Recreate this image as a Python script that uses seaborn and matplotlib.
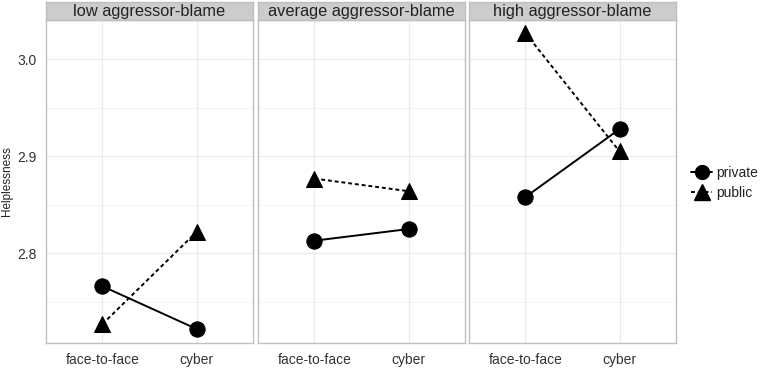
import matplotlib
matplotlib.use("Agg")
import matplotlib.pyplot as plt
from matplotlib.lines import Line2D
import seaborn as sns
import pandas as pd

# ---- data ----
panels = ["low aggressor-blame", "average aggressor-blame", "high aggressor-blame"]
conditions = ["face-to-face", "cyber"]
groups = ["private", "public"]
private_vals = {"low aggressor-blame": [2.766, 2.722],
                "average aggressor-blame": [2.813, 2.825],
                "high aggressor-blame": [2.858, 2.928]}
public_vals = {"low aggressor-blame": [2.727, 2.822],
               "average aggressor-blame": [2.877, 2.864],
               "high aggressor-blame": [3.027, 2.905]}
y_ticks = [2.8, 2.9, 3.0]
y_label = "Helplessness"

rows = []
for p in panels:
    for i, c in enumerate(conditions):
        rows.append({"panel": p, "x": i, "condition": c, "type": "private", "value": private_vals[p][i]})
        rows.append({"panel": p, "x": i, "condition": c, "type": "public", "value": public_vals[p][i]})
df = pd.DataFrame(rows)

sns.set_style("white")
plt.rcParams["font.family"] = ["Liberation Sans", "DejaVu Sans"]

W, H = 762, 369
fig = plt.figure(figsize=(W / 100, H / 100), dpi=100)

lefts = [46, 258, 469]
pw = 207
top_px, bot_px = 20, 343
strip_top = 2

ylim = (2.7075, 3.0405)
grid_col = "#ebebeb"
border_col = "#bfbfbf"

for k, p in enumerate(panels):
    ax = fig.add_axes([lefts[k] / W, 1 - bot_px / H, pw / W, (bot_px - top_px) / H])
    sub = df[df.panel == p]
    # grid
    for yv in [2.75, 2.85, 2.95]:
        ax.axhline(yv, color="#f4f4f4", lw=0.6, zorder=0)
    for yv in y_ticks:
        ax.axhline(yv, color=grid_col, lw=0.9, zorder=0)
    for xv in [0, 1]:
        ax.axvline(xv, color=grid_col, lw=0.9, zorder=0)
    sns.lineplot(data=sub, x="x", y="value", style="type", style_order=groups,
                 markers={"private": "o", "public": "^"},
                 dashes={"private": "", "public": (2, 1.5)},
                 color="black", markersize=11, lw=1.4, markeredgecolor="black",
                 legend=False, ax=ax, zorder=3)
    ax.set_xlim(-0.6, 1.6)
    ax.set_ylim(*ylim)
    ax.set_xticks([0, 1])
    ax.set_xticklabels(conditions, fontsize=10, color="#333333")
    ax.set_xlabel("")
    ax.set_yticks(y_ticks)
    if k == 0:
        ax.set_yticklabels([f"{v:.1f}" for v in y_ticks], fontsize=10, color="#333333")
        ax.set_ylabel(y_label, fontsize=8.5, color="#222222")
        ax.yaxis.set_label_coords(-33 / pw, 0.5)
    else:
        ax.set_yticklabels([])
        ax.set_ylabel("")
    ax.tick_params(axis="both", which="major", length=3, color="#999999", pad=4)
    if k > 0:
        ax.tick_params(axis="y", length=0)
    for s in ax.spines.values():
        s.set_color(border_col)
        s.set_linewidth(1.0)
    # strip
    sax = fig.add_axes([lefts[k] / W, 1 - top_px / H, pw / W, (top_px - strip_top) / H])
    sax.set_xticks([]); sax.set_yticks([])
    sax.set_facecolor("#cccccc")
    for s in sax.spines.values():
        s.set_color(border_col)
        s.set_linewidth(1.0)
    sax.text(0.5, 0.45, p, ha="center", va="center", fontsize=11.8, color="#222222",
             transform=sax.transAxes)

# legend
handles = [Line2D([0, 1], [0, 0], color="black", lw=1.4, marker="o", markersize=10, linestyle="-"),
           Line2D([0, 1], [0, 0], color="black", lw=1.4, marker="^", markersize=11, linestyle=(0, (2, 1.5)))]
leg = fig.legend(handles, groups, loc="center left", bbox_to_anchor=(690 / W, 1 - 183 / H),
                 frameon=False, fontsize=10, handlelength=1.5, handletextpad=0.3,
                 labelspacing=0.45, borderpad=0.1, borderaxespad=0)
for t in leg.get_texts():
    t.set_color("#222222")

fig.savefig("out.png", dpi=100)
